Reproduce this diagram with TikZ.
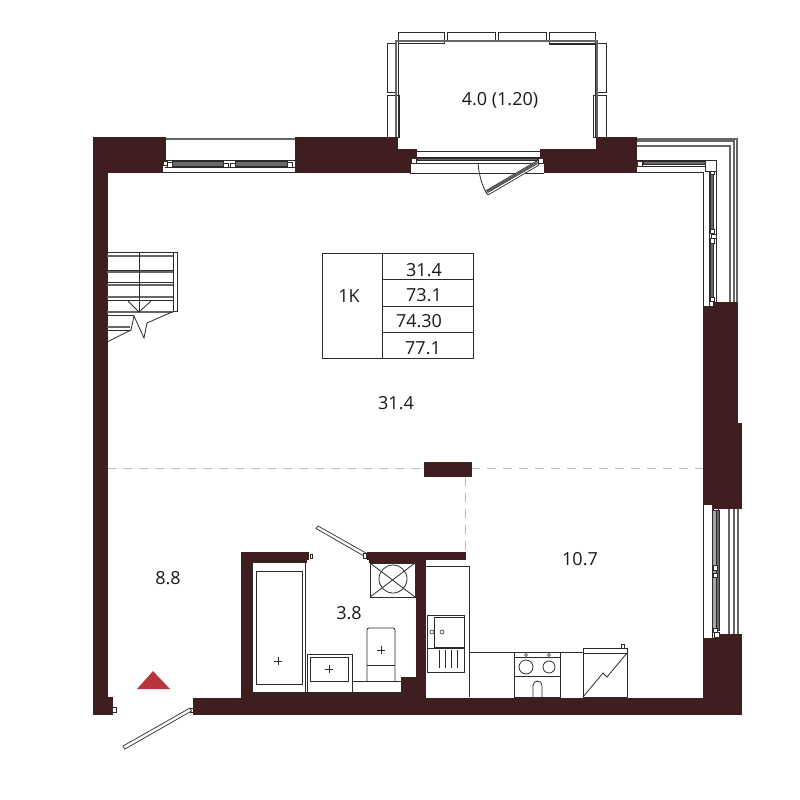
\documentclass[tikz,border=0pt]{standalone}
\usepackage{fontspec}
\setmainfont{Open Sans}
\usepackage{tikz}
\definecolor{wallcol}{HTML}{3F1E20}
\definecolor{markcol}{HTML}{B8343F}
\definecolor{inkcol}{HTML}{2E2A2B}
\definecolor{glasscol}{HTML}{6A6A6A}
\tikzset{
wall/.style={fill=wallcol, draw=wallcol, line width=0.3pt}, % every solid wall piece
thinline/.style={draw=inkcol, line width=0.8pt}, % furniture and window frames
railline/.style={draw=gray!80!black, line width=1.1pt}, % railings of the balcony and loggia
glass/.style={draw=inkcol, fill=glasscol, line width=0.4pt}, % window panes
post/.style={draw=inkcol, fill=white, line width=0.5pt}, % little white squares on frames
leaf/.style={draw=inkcol, fill=white, line width=0.7pt}, % door leaves
zoneline/.style={draw=gray!55, line width=0.7pt, dash pattern=on 9pt off 7pt}, % zone borders
label/.style={font=\fontsize{18}{20}\selectfont, text=black!90, inner sep=0pt}, % areas
}
\begin{document}
\begin{tikzpicture}[x=1pt, y=-1pt]
    \useasboundingbox (0,0) rectangle (800,800);

    % Zone borders
    \draw[zoneline] (107,468) -- (424,468);
    \draw[zoneline] (471,468) -- (703,468);
    \draw[zoneline] (465,477) -- (465,552);

    % Balcony
    \draw[thinline] (398,32) rectangle (444,43);
    \draw[thinline] (447,32) rectangle (495,40);
    \draw[thinline] (498,32) rectangle (546,40);
    \draw[thinline] (549,32) rectangle (595,44);
    \draw[thinline] (387,43) rectangle (395,92);
    \draw[thinline] (387,95) rectangle (399,137);
    \draw[thinline] (597,43) rectangle (606,92);
    \draw[thinline] (593,95) rectangle (606,137);
    \draw[railline] (396,137) -- (396,41) -- (597,41) -- (597,137);
    \draw[thinline] (398,137) -- (398,43) -- (444,43);
    \draw[thinline] (595,137) -- (595,43) -- (549,43);

    % Balcony door
    \draw[thinline] (416,151) -- (540,151);
    \draw[thinline] (410,173) -- (544,173);
    \draw[thinline] (411,157) rectangle (543,163);
    \draw[glass] (417,158) rectangle (537,160);
    \draw[post] (411,158) rectangle (416,163);
    \draw[post] (538,158) rectangle (543,163);
    \draw[thinline] (478,163) .. controls (479,175) and (482,186) .. (487,194);
    \draw[leaf] (536.5,161) -- (539,165) -- (488,195) -- (485.5,191) -- cycle;
    \draw[glass] (536,162.5) -- (537,164) -- (488,192.5) -- (487,191) -- cycle;

    % Window on the left of the top wall
    \draw[railline] (165,139) -- (295,139);
    \draw[thinline] (162,172) -- (295,172);
    \draw[thinline] (165,160) -- (295,160);
    \draw[thinline] (165,167) -- (295,167);
    \draw[glass] (172,161.5) rectangle (223,166);
    \draw[glass] (235,161.5) rectangle (287,166);
    \draw[post] (163,161) rectangle (167,165);
    \draw[post] (167,162) rectangle (172,167);
    \draw[post] (223,163) rectangle (228,167);
    \draw[post] (230,163) rectangle (235,167);
    \draw[post] (287,162) rectangle (292,167);

    % Corner window
    \draw[railline] (636,139) -- (737,139) -- (737,302);
    \draw[railline] (636,141) -- (734,141) -- (734,302);
    \draw[railline] (636,146) -- (730,146) -- (730,302);
    \draw[thinline] (636,172) -- (703,172) -- (703,306);
    \draw[thinline] (636,160) -- (716,160) -- (716,302);
    \draw[thinline] (636,166) -- (709,166) -- (709,306);
    \draw[glass] (643,161) rectangle (705,164);
    \draw[glass] (710,174) rectangle (713,229);
    \draw[glass] (710,243) rectangle (713,297);
    \draw[post] (637,161) rectangle (642,166);
    \draw[post] (705,160) rectangle (716,171);
    \draw[post] (710,171) rectangle (714,174);
    \draw[post] (710,229) rectangle (714,233);
    \draw[post] (711,234) rectangle (716,238);
    \draw[post] (710,238) rectangle (714,243);
    \draw[post] (710,297) rectangle (714,301);

    % Window on the right wall
    \draw[railline] (729,508) -- (729,634);
    \draw[railline] (734,508) -- (734,634);
    \draw[railline] (738,508) -- (738,634);
    \draw[thinline] (703,504) -- (703,638);
    \draw[thinline] (712,504) -- (712,638);
    \draw[glass, fill=gray!70] (712.5,510) rectangle (716,630);
    \draw[glass] (716,510) rectangle (719,630);
    \draw[post] (713,506) rectangle (718,510);
    \draw[post] (713,565) rectangle (717,570);
    \draw[post] (713,573) rectangle (717,577);
    \draw[post] (713,628) rectangle (717,632);
    \draw[post] (714,632) rectangle (719,637);

    % Walls
    \draw[wall] (93,137) -- (165,137) -- (165,160) -- (162,160) -- (162,172) -- (107,172)
        -- (107,697) -- (112,697) -- (112,714) -- (93,714) -- cycle;
    \draw[wall] (295,137) -- (397,137) -- (397,149) -- (416,149) -- (416,157) -- (410,157)
        -- (410,172) -- (295,172) -- cycle;
    \draw[wall] (540,149) -- (596,149) -- (596,137) -- (636,137) -- (636,172) -- (544,172)
        -- (544,157) -- (540,157) -- cycle;
    \draw[wall] (703,306) -- (713,306) -- (713,302) -- (737,302) -- (737,423) -- (741,423)
        -- (741,508) -- (713,508) -- (713,504) -- (703,504) -- cycle;
    \draw[wall] (424,462) rectangle (471,476);
    \draw[wall] (193,698) -- (241,698) -- (241,552) -- (306,552) -- (308,552) -- (308,559)
        -- (306,559) -- (306,562) -- (252,562) -- (252,692) -- (401,692) -- (401,677)
        -- (416,677) -- (416,562) -- (369,562) -- (369,559) -- (367,559) -- (367,552)
        -- (465,552) -- (465,559) -- (425,559) -- (425,698) -- (703,698) -- (703,638)
        -- (719,638) -- (719,634) -- (741,634) -- (741,714) -- (193,714) -- cycle;

    % Stairs
    \draw[thinline] (107,252) -- (177,252) -- (177,311) -- (173,311) -- (173,252);
    \draw[railline] (107,256) -- (173,256);
    \draw[thinline] (107,270) -- (173,270);
    \draw[railline] (107,272) -- (173,272);
    \draw[thinline] (107,282) -- (173,282);
    \draw[railline] (107,285) -- (173,285);
    \draw[railline] (107,297) -- (173,297);
    \draw[thinline] (107,300) -- (173,300);
    \draw[railline] (107,312) -- (173,312);
    \draw[thinline] (107,315) -- (134,315);
    \draw[railline] (107,327) -- (130,327);
    \draw[thinline] (107,330) -- (131,330);
    \draw[thinline] (139,252) -- (139,312);
    \draw[thinline] (128,301) -- (139,312) -- (151,301);
    \draw[thinline] (107,342) -- (131,330) -- (134,316) -- (144,338) -- (147,323) -- (172,312);

    % Table
    \node[draw=inkcol, line width=0.8pt, minimum width=151pt, minimum height=105pt, inner sep=0pt] (tablebox) at (397.5,305.5) {};
    \draw[thinline] (382,253) -- (382,358);
    \draw[thinline] (382,279) -- (473,279);
    \draw[thinline] (382,306) -- (473,306);
    \draw[thinline] (382,332) -- (473,332);
    \node[label] (rooms) at (349,296) {1K};
    \node[label] (rowa) at (424,270) {31.4};
    \node[label] (rowb) at (424,295) {73.1};
    \node[label] (rowc) at (419,321) {74.30};
    \node[label] (rowd) at (423,348) {77.1};

    % Area labels
    \node[label] (balcony) at (500,100) {4.0 (1.20)};
    \node[label] (living) at (396,403) {31.4};
    \node[label] (hall) at (168,578) {8.8};
    \node[label] (bath) at (349,613) {3.8};
    \node[label] (kitchen) at (580,559) {10.7};

    % Bathroom
    \draw[thinline] (252,562) rectangle (305,692);
    \draw[thinline] (256,571) rectangle (302,684);
    \draw[thinline] (274,661) -- (282,661) (278,657) -- (278,665);
    \draw[thinline] (307,654) rectangle (352,692);
    \draw[thinline] (310,657) rectangle (348,681);
    \draw[thinline] (325,669) -- (333,669) (329,665) -- (329,673);
    \draw[thinline, rounded corners=2pt] (367,681) -- (367,628) -- (395,628) -- (395,681);
    \draw[thinline] (367,665) -- (395,665);
    \draw[thinline] (377,650) -- (385,650) (381,646) -- (381,654);
    \draw[thinline] (352,681) -- (401,681);
    \draw[thinline] (352,692) -- (401,692);
    \draw[thinline] (370,563) rectangle (415,597);
    \draw[thinline] (370,563) -- (415,597) (370,597) -- (415,563);
    \node[draw=inkcol, line width=0.8pt, circle, minimum size=28pt, inner sep=0pt] (vent) at (393,579) {};
    \draw[post] (310,554) rectangle (312,558);
    \draw[leaf] (318,526) -- (366,553) -- (364,556) -- (316,528.5) -- cycle;
    \draw[post] (363,553) rectangle (366,558);

    % Kitchen
    \draw[thinline] (425,566) -- (469,566) -- (469,697);
    \draw[thinline] (427,615) rectangle (464,672);
    \draw[thinline] (427,648) -- (464,648);
    \draw[thinline] (434,617) rectangle (464,647);
    \node[draw=inkcol, line width=0.6pt, circle, minimum size=4pt, inner sep=0pt] (tapa) at (432,632) {};
    \node[draw=inkcol, line width=0.6pt, circle, minimum size=4pt, inner sep=0pt] (tapb) at (442,632) {};
    \draw[thinline] (439,650) -- (439,668) (445,650) -- (445,668) (451,650) -- (451,668) (457.5,650) -- (457.5,668);
    \draw[thinline] (469,652) -- (583,652);
    \draw[thinline] (514,652) rectangle (560,697);
    \draw[thinline] (514,657) -- (560,657);
    \draw[thinline] (514,676) -- (560,676);
    \node[draw=inkcol, line width=0.8pt, circle, minimum size=14pt, inner sep=0pt] (hoba) at (526,667) {};
    \node[draw=inkcol, line width=0.8pt, circle, minimum size=12pt, inner sep=0pt] (hobb) at (549,667) {};
    \node[draw=inkcol, line width=0.5pt, circle, minimum size=3pt, inner sep=0pt] (knoba) at (526,655) {};
    \node[draw=inkcol, line width=0.5pt, circle, minimum size=3pt, inner sep=0pt] (knobb) at (549,655) {};
    \draw[thinline] (533,697) -- (533,685.5) arc[start angle=180, end angle=0, radius=4.5pt] -- (542,697);
    \draw[thinline] (583,648) rectangle (627,697);
    \draw[thinline] (583,653) -- (627,653);
    \draw[thinline] (583,697) -- (603,673) -- (607,677) -- (627,653);
    \draw[thinline] (621,648) -- (621,644) -- (624,644) -- (624,648);

    % Entrance
    \fill[markcol] (153,671) -- (170,689) -- (137,689) -- cycle;
    \draw[post] (112,707) rectangle (116,712);
    \draw[post] (190,708) rectangle (193,712);
    \draw[leaf] (190,708) -- (191.5,711) -- (125,749) -- (123,746) -- cycle;
\end{tikzpicture}
\end{document}
